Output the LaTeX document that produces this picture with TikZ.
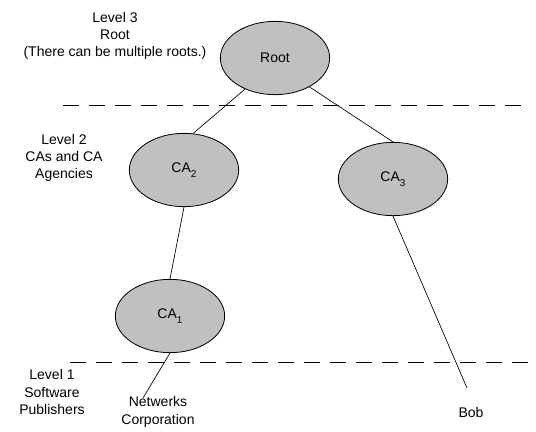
\documentclass[tikz,border=0pt]{standalone}
\usepackage{fontspec}
\setmainfont{Liberation Sans}
\usepackage{tikz}
\usetikzlibrary{shapes.geometric}
\definecolor{cagray}{RGB}{192,192,192}
\newcommand{\casub}[1]{\raisebox{-0.7ex}{\fontsize{7.5}{8}\selectfont #1}}

\begin{document}
\begin{tikzpicture}[
    x=0.75pt, y=-0.75pt,
    font=\fontsize{10.5}{13}\selectfont,
    ca/.style={draw, ellipse, fill=cagray, line width=0.6pt, inner sep=0pt, minimum width=82pt, minimum height=55pt},
    lbl/.style={align=center, inner sep=1pt},
    link/.style={line width=0.5pt},
    level/.style={line width=0.6pt, dash pattern=on 12pt off 7.5pt}
]
\useasboundingbox (0,0) rectangle (536,432);

% level text
\node[lbl] (lvl3) at (115,36) {Level 3\\Root\\(There can be multiple roots.)};
\node[lbl] (lvl2) at (64,158) {Level 2\\CAs and CA\\Agencies};
\node[lbl] (lvl1) at (52,392) {Level 1\\Software\\Publishers};

% level borders
\coordinate (top l) at (63,105);
\coordinate (top r) at (522,105);
\coordinate (bot l) at (70,362);
\coordinate (bot r) at (536,362);
\draw[level] (top l) -- (top r);
\draw[level] (bot l) -- (bot r);

% certificate authorities
\node[ca] (root) at (275,58) {Root};
\node[ca] (ca2) at (184,170) {CA\casub{2}};
\node[ca] (ca3) at (393,179) {CA\casub{3}};
\node[ca] (ca1) at (170,316) {CA\casub{1}};

% publishers
\node[lbl] (netwerks) at (158,412) {Netwerks\\Corporation};
\node[lbl] (bob) at (471,412) {Bob};
\coordinate (netwerks end) at (143,398);
\coordinate (bob end) at (467,388);

\draw[link] (root.226) -- (ca2.76);
\draw[link] (root.320) -- (ca3.90);
\draw[link] (ca2.270) -- (ca1.90);
\draw[link] (ca1.270) -- (netwerks end);
\draw[link] (ca3.270) -- (bob end);
\end{tikzpicture}
\end{document}
